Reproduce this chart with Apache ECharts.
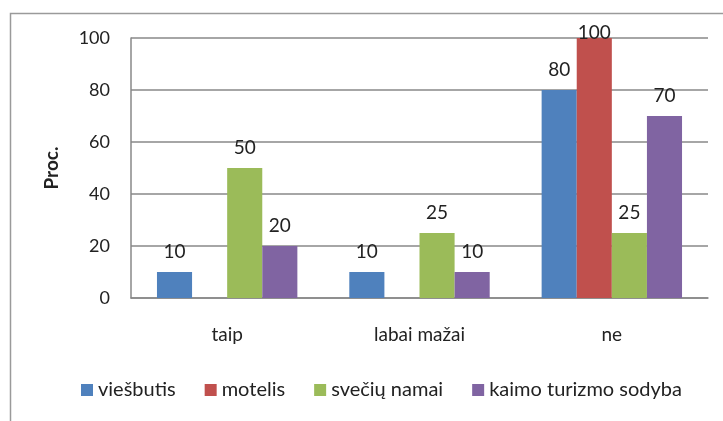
<!DOCTYPE html>
<html>
<head>
<meta charset="utf-8">
<script src="https://cdn.jsdelivr.net/npm/echarts@6/dist/echarts.min.js"></script>
<style>
  html, body { margin: 0; padding: 0; background: #fff; }
  #chart { width: 723px; height: 421px; }
</style>
</head>
<body>
<div id="chart"></div>
<script>
// duomenys
const categories = ['taip', 'labai mažai', 'ne'];
const seriesNames = ['viešbutis', 'motelis', 'svečių namai', 'kaimo turizmo sodyba'];
const viesbutis = [10, 10, 80];
const motelis = [null, null, 100];
const sveciuNamai = [50, 25, 25];
const kaimoSodyba = [20, 10, 70];
const yTicks = [0, 20, 40, 60, 80, 100];

const colors = ['#4F81BD', '#C0504D', '#9BBB59', '#8064A2'];
const font = 'Lato, "Open Sans", sans-serif';

const chart = echarts.init(document.getElementById('chart'));

function barSeries(name, values, color) {
  return {
    name: name,
    type: 'bar',
    barGap: 0,
    barCategoryGap: '27%',
    itemStyle: { color: color },
    // prie pat viršaus etiketė spaudžiama žemyn, kaip Excel
    data: values.map(v => (v === yTicks[yTicks.length - 1]
      ? { value: v, label: { distance: -4 } }
      : v)),
    label: {
      show: true,
      position: 'top',
      distance: 11,
      fontSize: 19,
      fontFamily: font,
      color: '#222'
    }
  };
}

chart.setOption({
  animation: false,
  graphic: [{
    type: 'rect',
    shape: { x: 10.5, y: 13.5, width: 800, height: 500 },
    style: { fill: 'none', stroke: '#9a9a9a', lineWidth: 1.5 }
  }],
  grid: { left: 131, right: 15, top: 38, bottom: 123 },
  legend: {
    bottom: 16,
    left: 76,
    itemWidth: 12,
    itemHeight: 12,
    itemGap: 29,
    icon: 'rect',
    textStyle: { fontSize: 20, fontFamily: font, color: '#222' },
    data: seriesNames
  },
  xAxis: {
    type: 'category',
    data: categories,
    axisLine: { lineStyle: { color: '#888', width: 1.5 } },
    axisTick: { show: false },
    axisLabel: { fontSize: 19, fontFamily: font, color: '#222', margin: 27 }
  },
  yAxis: {
    type: 'value',
    min: yTicks[0],
    max: yTicks[yTicks.length - 1],
    interval: 20,
    name: 'Proc.',
    nameLocation: 'middle',
    nameGap: 70,
    nameTextStyle: { fontSize: 19, fontWeight: 'bold', fontFamily: font, color: '#222' },
    axisLine: { show: true, lineStyle: { color: '#888', width: 1.5 } },
    axisTick: { show: false },
    axisLabel: { fontSize: 18, fontFamily: font, color: '#222', margin: 21 },
    splitLine: { lineStyle: { color: '#888', width: 1.5 } }
  },
  series: [
    barSeries(seriesNames[0], viesbutis, colors[0]),
    barSeries(seriesNames[1], motelis, colors[1]),
    barSeries(seriesNames[2], sveciuNamai, colors[2]),
    barSeries(seriesNames[3], kaimoSodyba, colors[3])
  ]
});
</script>
</body>
</html>
